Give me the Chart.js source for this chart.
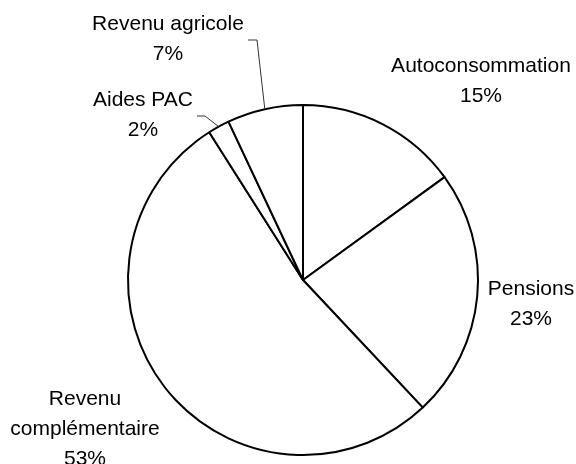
<!DOCTYPE html>
<html>
<head>
<meta charset="utf-8">
<script src="https://cdn.jsdelivr.net/npm/chart.js@4/dist/chart.umd.min.js"></script>
<style>
  html, body { margin: 0; padding: 0; background: #fff; }
</style>
</head>
<body>
<canvas id="pie" width="576" height="464"></canvas>
<script>
// data, clockwise from 12 o'clock
const categories = ['Autoconsommation', 'Pensions', 'Revenu complémentaire', 'Aides PAC', 'Revenu agricole'];
const shares = [15, 23, 53, 2, 7];
const labelLines = [['Autoconsommation'], ['Pensions'], ['Revenu', 'complémentaire'], ['Aides PAC'], ['Revenu agricole']];

// where each label sits, relative to the pie centre (text centre x, first baseline y)
const labelSpots = [[178, -208], [228, 15], [-218, 125], [-160, -174], [-135, -250]];
// leader lines: elbow and end point, relative to centre (null = no leader)
const leaders = [null, null, null, [[-98, -164], [-106, -164]], [[-46, -240], [-55, -240]]];

const outsideLabels = {
    id: 'outsideLabels',
    afterDatasetsDraw(chart) {
        const ctx = chart.ctx;
        const meta = chart.getDatasetMeta(0);
        ctx.save();
        meta.data.forEach((arc, i) => {
            const cx = arc.x, cy = arc.y;
            // leader line from the middle of the slice edge
            if (leaders[i]) {
                const mid = (arc.startAngle + arc.endAngle) / 2;
                ctx.beginPath();
                ctx.strokeStyle = '#333';
                ctx.lineWidth = 1;
                ctx.moveTo(cx + Math.cos(mid) * arc.outerRadius, cy + Math.sin(mid) * arc.outerRadius);
                leaders[i].forEach(p => ctx.lineTo(cx + p[0], cy + p[1]));
                ctx.stroke();
            }
            const lines = labelLines[i].concat([shares[i] + '%']);
            ctx.fillStyle = '#000';
            ctx.font = '21px "Liberation Sans", Arial, sans-serif';
            ctx.textAlign = 'center';
            ctx.textBaseline = 'alphabetic';
            lines.forEach((t, k) => {
                ctx.fillText(t, cx + labelSpots[i][0], cy + labelSpots[i][1] + k * 30);
            });
        });
        ctx.restore();
    }
};

new Chart(document.getElementById('pie'), {
    type: 'pie',
    data: {
        labels: categories,
        datasets: [{
            data: shares,
            backgroundColor: '#fff',
            borderColor: '#000',
            borderWidth: 2
        }]
    },
    options: {
        responsive: false,
        animation: false,
        radius: 175,
        layout: { padding: { left: 30, right: 0, top: 96, bottom: 0 } },
        plugins: {
            legend: { display: false },
            tooltip: { enabled: false }
        }
    },
    plugins: [outsideLabels]
});
</script>
</body>
</html>
